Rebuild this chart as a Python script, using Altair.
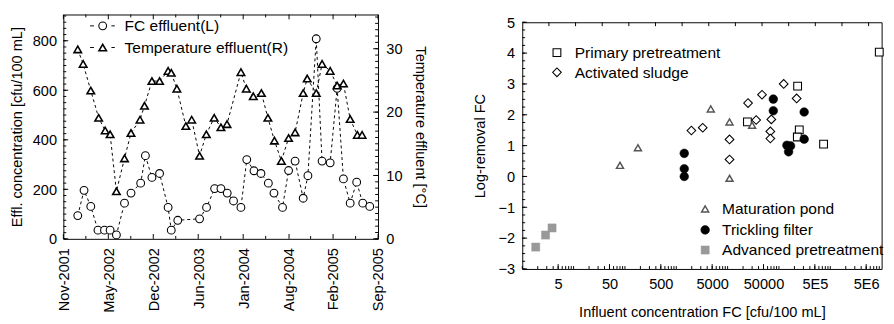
import altair as alt
import pandas as pd

FONT = "Liberation Sans"
FS = 15
LEG_FS = 16

# ---------------- Left panel data ----------------
fc_dates = ["2002-01-04", "2002-02-01", "2002-03-03", "2002-04-04", "2002-05-03", "2002-05-28",
            "2002-06-25", "2002-07-31", "2002-08-29", "2002-10-11", "2002-11-01", "2002-11-30",
            "2003-01-03", "2003-02-10", "2003-02-24", "2003-03-25", "2003-06-30", "2003-07-31",
            "2003-09-05", "2003-10-03", "2003-10-31", "2003-11-28", "2003-12-31", "2004-01-26",
            "2004-02-27", "2004-03-29", "2004-05-01", "2004-05-26", "2004-07-03", "2004-07-30",
            "2004-08-28", "2004-10-03", "2004-10-24", "2004-11-30", "2004-12-26", "2005-01-31",
            "2005-03-03", "2005-03-31", "2005-04-30", "2005-05-29", "2005-06-25", "2005-07-26"]
fc_values = [94, 196, 131, 35, 35, 35, 16, 144, 185, 225, 336, 248, 264, 127, 35, 75, 81, 127,
             203, 203, 185, 153, 127, 320, 275, 264, 225, 185, 127, 276, 314, 164, 255, 808,
             314, 307, 608, 242, 144, 229, 144, 131]

temp_dates = ["2002-01-04", "2002-01-28", "2002-03-03", "2002-04-07", "2002-05-06", "2002-05-28",
              "2002-06-25", "2002-07-31", "2002-08-29", "2002-10-08", "2002-10-28", "2002-11-30",
              "2003-01-03", "2003-02-10", "2003-02-24", "2003-03-21", "2003-04-30", "2003-05-26",
              "2003-06-30", "2003-07-30", "2003-09-03", "2003-10-03", "2003-10-30", "2003-12-31",
              "2004-01-24", "2004-02-24", "2004-03-31", "2004-04-29", "2004-05-28", "2004-06-28",
              "2004-07-30", "2004-08-28", "2004-10-03", "2004-10-21", "2004-11-30", "2004-12-26",
              "2005-01-31", "2005-03-03", "2005-03-31", "2005-04-30", "2005-06-01", "2005-06-22"]
temp_values = [29.9, 27.6, 23.4, 19.1, 17.1, 16.5, 7.5, 12.7, 16.7, 18.8, 21.0, 24.9, 24.9, 26.5,
               26.2, 23.7, 17.8, 18.8, 13.1, 16.5, 19.1, 17.6, 18.1, 26.3, 23.7, 22.5, 23.0, 19.1,
               15.5, 12.3, 15.9, 16.8, 23.0, 25.3, 23.0, 27.6, 26.5, 24.2, 24.5, 18.9, 16.4, 16.4]

time_tick_dates = ["2001-11-01", "2002-05-20", "2002-12-06", "2003-06-24", "2004-01-10",
                   "2004-08-01", "2005-02-13", "2005-09-01"]
time_minor_dates = ["2002-02-09", "2002-08-28", "2003-03-16", "2003-10-02", "2004-04-19",
                    "2004-11-05", "2005-05-24"]
time_domain = ["2001-11-01", "2005-09-01"]
fc_ticks = [0, 200, 400, 600, 800]
temp_ticks = [0, 10, 20, 30]
left_legend_labels = ["FC effluent(L)", "Temperature effluent(R)"]

# ---------------- Right panel data ----------------
primary_x = [24300, 231000, 248800, 228000, 740000, 9.0e6]
primary_y = [1.77, 2.93, 1.51, 1.28, 1.05, 4.03]
sludge_x = [1970, 3274, 10900, 10900, 25000, 36000, 46800, 71000, 68000, 68000, 123800, 221000]
sludge_y = [1.49, 1.58, 1.20, 0.55, 2.38, 1.83, 2.65, 1.85, 1.46, 1.23, 3.00, 2.53]
pond_x = [80, 179, 4700, 10900, 10900, 30000]
pond_y = [0.36, 0.93, 2.19, 1.77, -0.06, 1.66]
trickling_x = [1430, 1430, 1430, 77650, 77650, 309800, 309800, 142900, 168200, 154100]
trickling_y = [0.75, 0.25, 0.0, 2.51, 2.13, 2.09, 1.21, 1.01, 0.99, 0.80]
advanced_x = [1.83, 2.84, 3.8]
advanced_y = [-2.29, -1.90, -1.67]
removal_x_ticks = [5, 50, 500, 5000, 50000, 5e5, 5e6]
removal_y_ticks = [-3, -2, -1, 0, 1, 2, 3, 4, 5]
removal_legend_labels = ["Primary pretreatment", "Activated sludge", "Maturation pond",
                         "Trickling filter", "Advanced pretreatment"]

W1, H1 = 324, 231
W2, H2 = 370, 254
POND_GRAY = "#555555"
ADV_GRAY = "#999999"


def dt(s):
    return alt.DateTime(year=int(s[:4]), month=int(s[5:7]), date=int(s[8:10]))


def ts(s):
    return s + "T00:00:00"


# ---------------- Left panel ----------------
x_time_scale = alt.Scale(domain=[dt(time_domain[0]), dt(time_domain[1])], nice=False)
x_time_axis = alt.Axis(values=[dt(s) for s in time_tick_dates], format="%b-%Y", labelAngle=270,
                       labelAlign="right", labelBaseline="middle", labelPadding=9, title=None,
                       labelOverlap=False, labelFlush=False)
y_fc_scale = alt.Scale(domain=[0, 906], nice=False, zero=False)
y_fc_axis = alt.Axis(values=fc_ticks, title="Effl. concentration [cfu/100 mL]", orient="left",
                     labelPadding=7, titlePadding=8)
y_t_scale = alt.Scale(domain=[0, 35.4], nice=False, zero=False)
y_t_axis = alt.Axis(values=temp_ticks, title="Temperature effluent [°C]", orient="right",
                    labelPadding=8, titlePadding=11)


def X_time(field="date"):
    return alt.X(f"{field}:T", scale=x_time_scale, axis=x_time_axis)


fc_df = pd.DataFrame({"date": [ts(d) for d in fc_dates], "fc": fc_values})
t_df = pd.DataFrame({"date": [ts(d) for d in temp_dates], "temp": temp_values})

fc_line = alt.Chart(fc_df).mark_line(color="black", strokeWidth=1, strokeDash=[3, 3]).encode(
    x=X_time(), y=alt.Y("fc:Q", scale=y_fc_scale, axis=y_fc_axis))
fc_pts = alt.Chart(fc_df).mark_point(shape="circle", filled=True, fill="white", stroke="black",
                                     strokeWidth=1.1, size=64, opacity=1).encode(
    x=X_time(), y=alt.Y("fc:Q", scale=y_fc_scale, axis=y_fc_axis))

# inward tick marks (decoration)
maj_df = pd.DataFrame({"date": [ts(d) for d in time_tick_dates]})
min_df = pd.DataFrame({"date": [ts(d) for d in time_minor_dates]})
xt = []
for df_, L in ((maj_df, 5), (min_df, 3)):
    xt.append(alt.Chart(df_).mark_rule(color="black", strokeWidth=1).encode(
        x=X_time(), y=alt.value(H1), y2=alt.value(H1 - L)))
    xt.append(alt.Chart(df_).mark_rule(color="black", strokeWidth=1).encode(
        x=X_time(), y=alt.value(0), y2=alt.value(L)))

fc_minor = pd.DataFrame({"v": [v for v in range(0, 906, 25)]})
fc_major = pd.DataFrame({"v": fc_ticks})
fc_tk = [
    alt.Chart(fc_minor).mark_rule(color="black", strokeWidth=1).encode(
        y=alt.Y("v:Q", scale=y_fc_scale, axis=y_fc_axis), x=alt.value(0), x2=alt.value(3)),
    alt.Chart(fc_major).mark_rule(color="black", strokeWidth=1).encode(
        y=alt.Y("v:Q", scale=y_fc_scale, axis=y_fc_axis), x=alt.value(0), x2=alt.value(5)),
]

t_line = alt.Chart(t_df).mark_line(color="black", strokeWidth=1, strokeDash=[3, 3]).encode(
    x=X_time(), y=alt.Y("temp:Q", scale=y_t_scale, axis=y_t_axis))
t_pts = alt.Chart(t_df).mark_point(shape="triangle-up", filled=True, fill="white", stroke="black",
                                   strokeWidth=1.6, size=60, opacity=1).encode(
    x=X_time(), y=alt.Y("temp:Q", scale=y_t_scale, axis=y_t_axis))
t_minor = pd.DataFrame({"v": list(range(0, 36))})
t_major = pd.DataFrame({"v": temp_ticks})
t_tk = [
    alt.Chart(t_minor).mark_rule(color="black", strokeWidth=1).encode(
        y=alt.Y("v:Q", scale=y_t_scale, axis=y_t_axis), x=alt.value(W1), x2=alt.value(W1 - 3)),
    alt.Chart(t_major).mark_rule(color="black", strokeWidth=1).encode(
        y=alt.Y("v:Q", scale=y_t_scale, axis=y_t_axis), x=alt.value(W1), x2=alt.value(W1 - 5)),
]


def legend_entry(label, sx, sy, tx, shape, fill, stroke, size, sw, dashes=None):
    d = pd.DataFrame({"label": [label]})
    layers = []
    if dashes:
        for a, b in dashes:
            layers.append(alt.Chart(d).mark_rule(color="black", strokeWidth=1).encode(
                x=alt.value(a), x2=alt.value(b), y=alt.value(sy)))
    layers.append(alt.Chart(d).mark_point(shape=shape, filled=True, fill=fill, stroke=stroke,
                                          strokeWidth=sw, size=size, opacity=1).encode(
        x=alt.value(sx), y=alt.value(sy)))
    layers.append(alt.Chart(d).mark_text(align="left", baseline="middle", fontSize=LEG_FS, font=FONT,
                                         color="black").encode(
        x=alt.value(tx), y=alt.value(sy + 0.5), text="label:N"))
    return layers


leg_left = (legend_entry(left_legend_labels[0], 40.5, 11.7, 63, "circle", "white", "black", 64, 1.1,
                         dashes=[(27.5, 31.5), (49.5, 53)])
            + legend_entry(left_legend_labels[1], 40.5, 34, 63, "triangle-up", "white", "black", 60, 1.6,
                           dashes=[(27.5, 31.5), (49.5, 53)]))

layer_fc = alt.layer(fc_line, fc_pts, *fc_tk, *xt, *leg_left)
layer_t = alt.layer(t_line, t_pts, *t_tk)
left = alt.layer(layer_fc, layer_t).resolve_scale(y="independent").properties(width=W1, height=H1)

# ---------------- Right panel ----------------
x_log_scale = alt.Scale(type="log", domain=[1, 1e7], nice=False)
x_log_axis = alt.Axis(values=removal_x_ticks,
                      labelExpr="datum.value < 1e5 ? format(datum.value, 'd') : "
                                "replace(format(datum.value, '.0e'), 'e+', 'E')",
                      title="Influent concentration FC [cfu/100 mL]", labelPadding=8,
                      titlePadding=14, labelFlush=False, labelOverlap=False)
y_lr_scale = alt.Scale(domain=[-3, 5], nice=False, zero=False)
y_lr_axis = alt.Axis(values=removal_y_ticks, title="Log-removal FC", labelPadding=8, titlePadding=11)


def XY(xf="x", yf="y"):
    return dict(x=alt.X(f"{xf}:Q", scale=x_log_scale, axis=x_log_axis),
                y=alt.Y(f"{yf}:Q", scale=y_lr_scale, axis=y_lr_axis))


def group_layer(xs, ys, shape, fill, stroke, size, sw):
    d = pd.DataFrame({"x": xs, "y": ys})
    return alt.Chart(d).mark_point(shape=shape, filled=True, fill=fill, stroke=stroke,
                                   strokeWidth=sw, size=size, opacity=1).encode(**XY())


pts_r = [
    group_layer(primary_x, primary_y, "square", "white", "black", 64, 1.1),
    group_layer(sludge_x, sludge_y, "diamond", "white", "black", 80, 1.1),
    group_layer(pond_x, pond_y, "triangle-up", "white", POND_GRAY, 52, 1.5),
    group_layer(trickling_x, trickling_y, "circle", "black", "black", 80, 0.5),
    group_layer(advanced_x, advanced_y, "square", ADV_GRAY, ADV_GRAY, 70, 0.5),
]

# inward tick marks
lr_minor = pd.DataFrame({"y": [-3 + 0.25 * i for i in range(33)]})
lr_major = pd.DataFrame({"y": removal_y_ticks})
log_minor = pd.DataFrame({"x": [k * 10 ** e for e in range(0, 7) for k in range(1, 10) if k * 10 ** e <= 1e7]})
log_major = pd.DataFrame({"x": removal_x_ticks})
top_ticks = pd.DataFrame({"x": [10 ** (i * 27.4 / 52.8) for i in range(1, 14)]})
tk_r = [
    alt.Chart(lr_minor).mark_rule(color="black", strokeWidth=1).encode(
        y=alt.Y("y:Q", scale=y_lr_scale, axis=y_lr_axis), x=alt.value(0), x2=alt.value(3)),
    alt.Chart(lr_major).mark_rule(color="black", strokeWidth=1).encode(
        y=alt.Y("y:Q", scale=y_lr_scale, axis=y_lr_axis), x=alt.value(0), x2=alt.value(5)),
    alt.Chart(log_minor).mark_rule(color="black", strokeWidth=1).encode(
        x=alt.X("x:Q", scale=x_log_scale, axis=x_log_axis), y=alt.value(H2), y2=alt.value(H2 - 3)),
    alt.Chart(log_major).mark_rule(color="black", strokeWidth=1).encode(
        x=alt.X("x:Q", scale=x_log_scale, axis=x_log_axis), y=alt.value(H2), y2=alt.value(H2 - 5)),
    alt.Chart(top_ticks).mark_rule(color="black", strokeWidth=1).encode(
        x=alt.X("x:Q", scale=x_log_scale, axis=x_log_axis), y=alt.value(0), y2=alt.value(4)),
]

leg_right = (
    legend_entry(removal_legend_labels[0], 35.7, 31.2, 54, "square", "white", "black", 64, 1.1)
    + legend_entry(removal_legend_labels[1], 35.7, 51.5, 54, "diamond", "white", "black", 80, 1.1)
    + legend_entry(removal_legend_labels[2], 188.3, 192.2, 205.7, "triangle-up", "white", POND_GRAY, 52, 1.5)
    + legend_entry(removal_legend_labels[3], 188.3, 213.8, 205.7, "circle", "black", "black", 80, 0.5)
    + legend_entry(removal_legend_labels[4], 188.3, 234.5, 205.7, "square", ADV_GRAY, ADV_GRAY, 70, 0.5)
)

right = alt.layer(*tk_r, *pts_r, *leg_right).properties(width=W2, height=H2)

# invisible spacer that lowers the right panel's frame relative to the left one
spacer = alt.Chart(pd.DataFrame({"a": [0]})).mark_point(opacity=0, size=1).encode(
    x=alt.value(2), y=alt.value(0)
).properties(width=W2, height=7.5, view=alt.ViewBackground(stroke="transparent"))

right_col = alt.vconcat(spacer, right, spacing=0, bounds="flush")

chart = alt.hconcat(left, right_col, spacing=44.5).properties(
    padding={"left": 1, "top": 1, "right": 0, "bottom": 0}
).configure(font=FONT).configure_view(stroke="black", strokeWidth=1).configure_axis(
    labelFontSize=FS, titleFontSize=FS, titleFontWeight="normal", labelColor="black",
    titleColor="black", grid=False, ticks=False, domain=False, labelFont=FONT, titleFont=FONT)

chart.save("out.html", embed_options={"renderer": "svg", "actions": False})
